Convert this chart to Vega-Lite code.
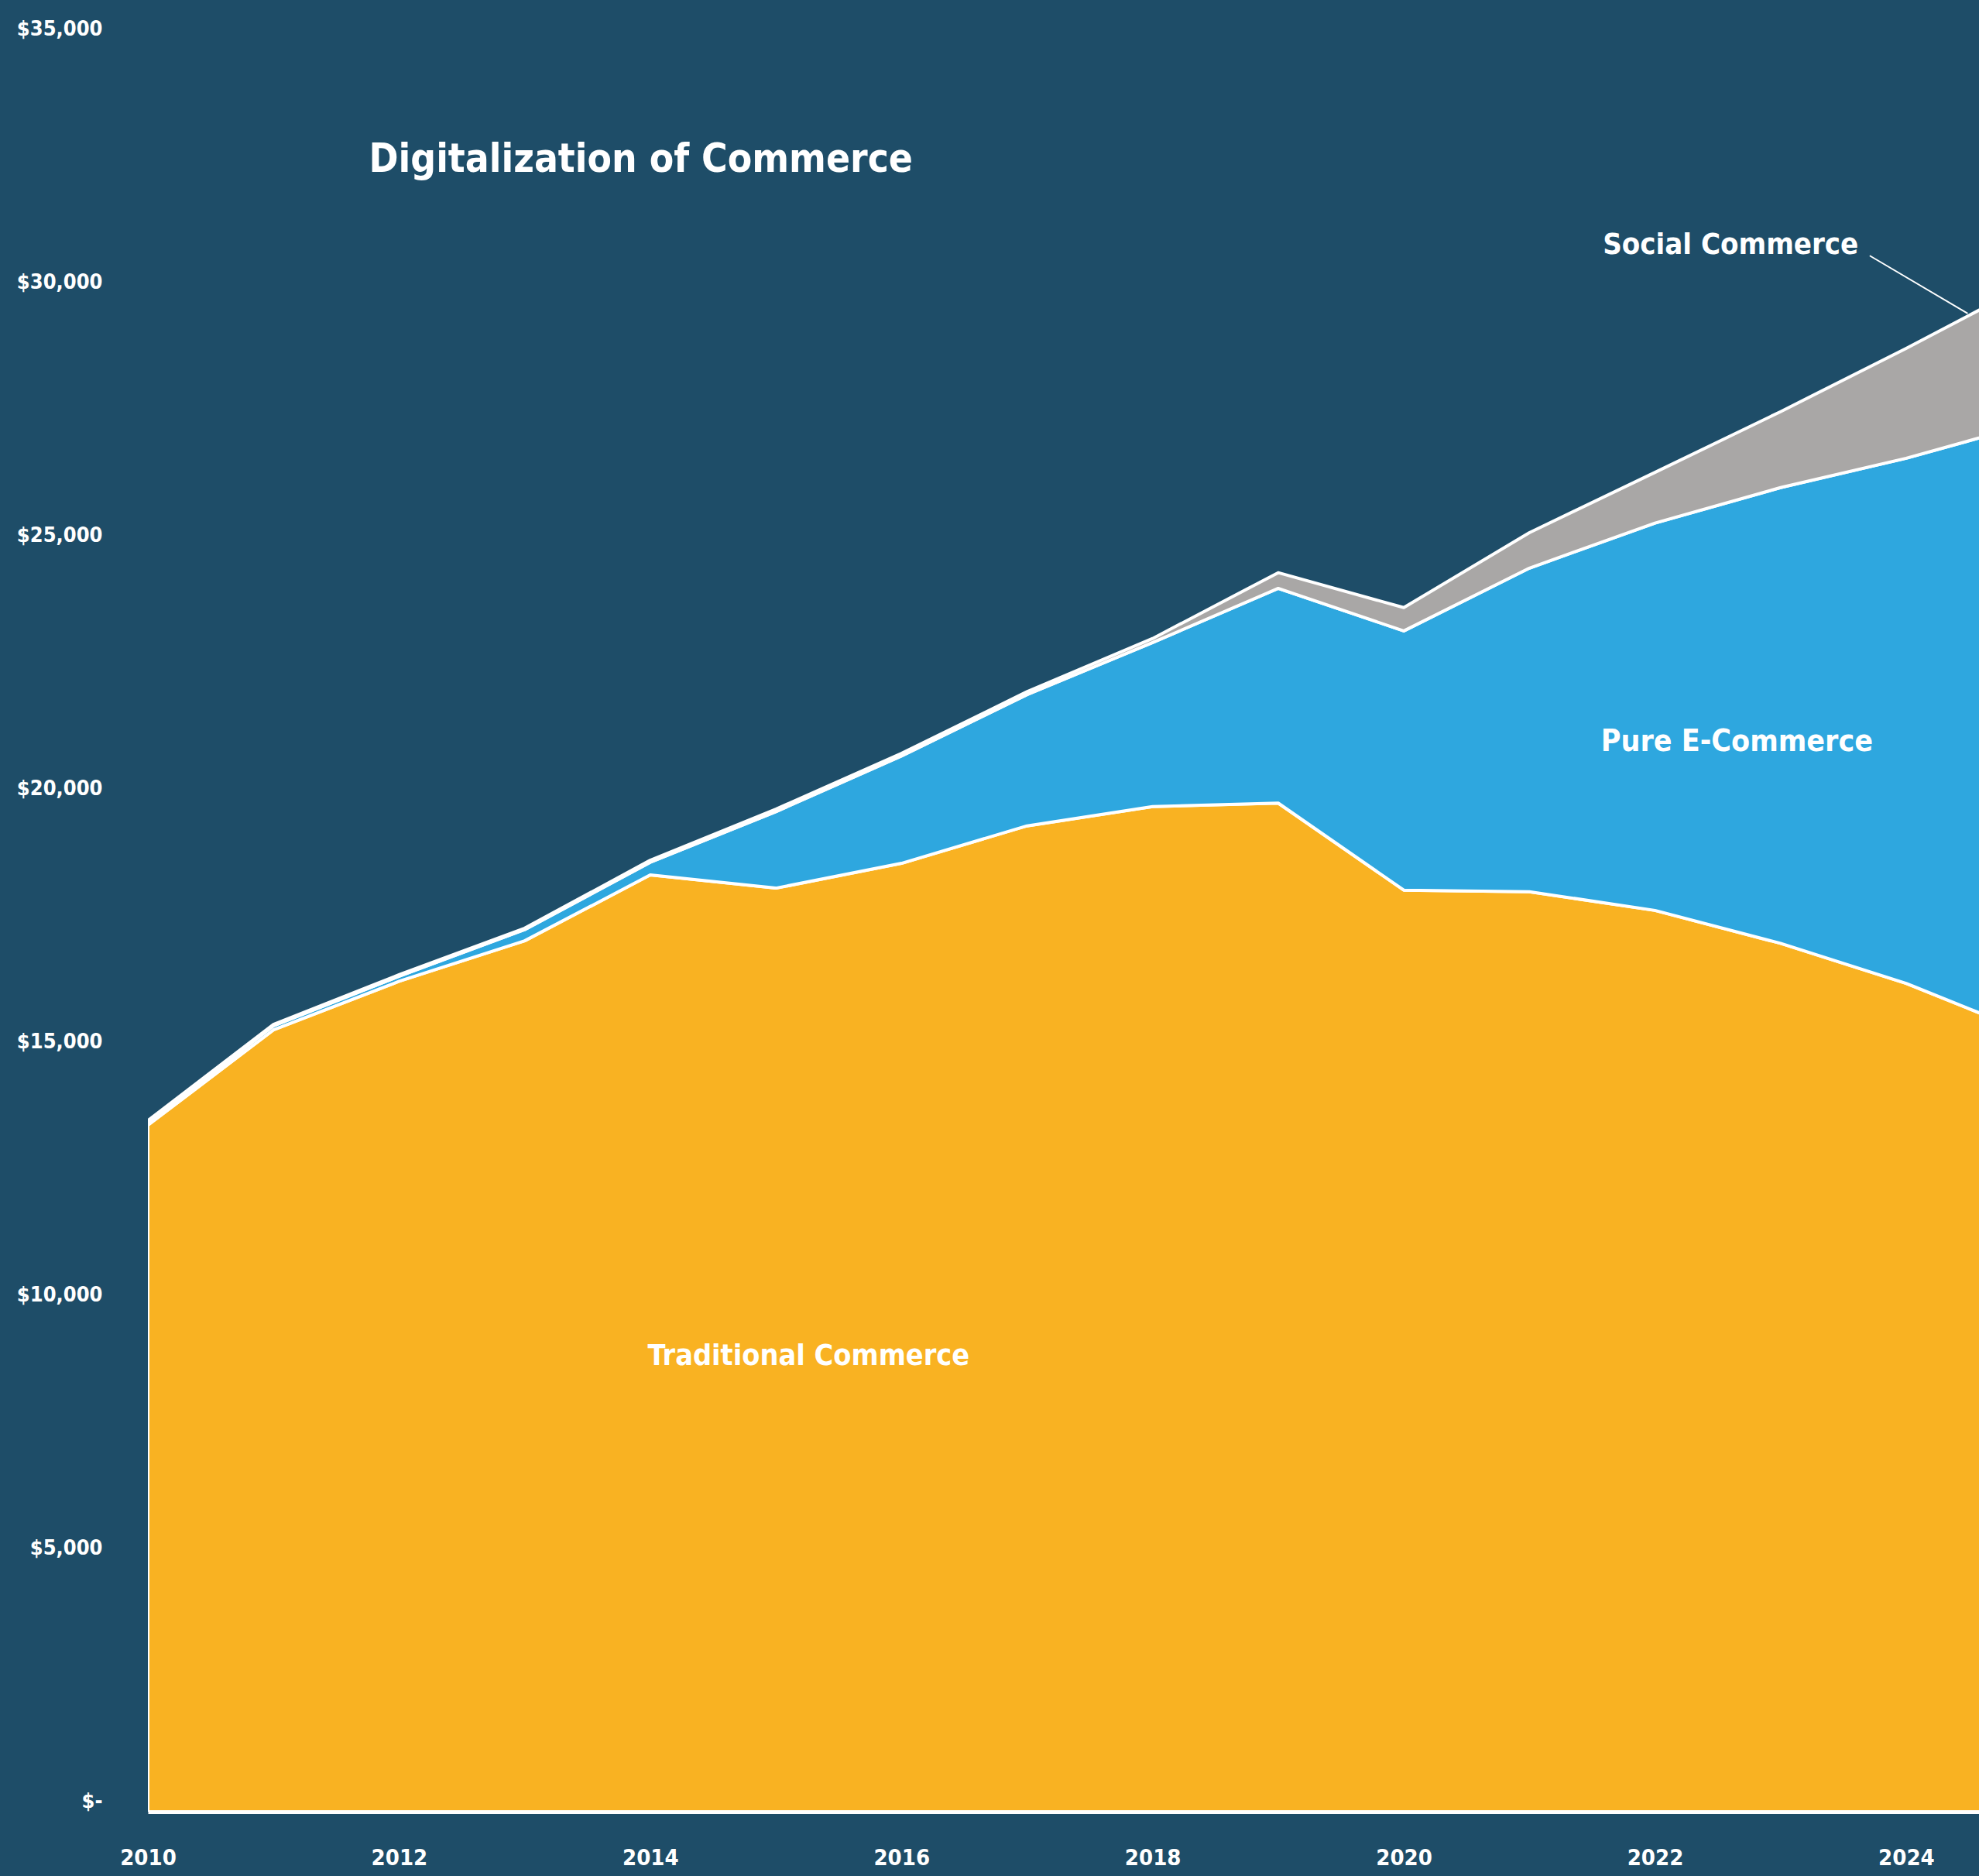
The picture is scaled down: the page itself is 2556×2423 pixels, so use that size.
{
  "$schema": "https://vega.github.io/schema/vega-lite/v6.json",
  "width": 2365,
  "height": 2289,
  "autosize": {"type": "none"},
  "padding": {"left": 191, "top": 51, "right": 0, "bottom": 83},
  "background": "#1E4D68",
  "config": {
    "view": {"stroke": null},
    "font": "Liberation Sans Narrow, DejaVu Sans Condensed, sans-serif"
  },
  "datasets": {
    "commerce": [
      {"year": 2010, "segment": "Traditional Commerce", "value": 13560},
      {"year": 2011, "segment": "Traditional Commerce", "value": 15440},
      {"year": 2012, "segment": "Traditional Commerce", "value": 16400},
      {"year": 2013, "segment": "Traditional Commerce", "value": 17200},
      {"year": 2014, "segment": "Traditional Commerce", "value": 18500},
      {"year": 2015, "segment": "Traditional Commerce", "value": 18240},
      {"year": 2016, "segment": "Traditional Commerce", "value": 18730},
      {"year": 2017, "segment": "Traditional Commerce", "value": 19470},
      {"year": 2018, "segment": "Traditional Commerce", "value": 19850},
      {"year": 2019, "segment": "Traditional Commerce", "value": 19920},
      {"year": 2020, "segment": "Traditional Commerce", "value": 18200},
      {"year": 2021, "segment": "Traditional Commerce", "value": 18170},
      {"year": 2022, "segment": "Traditional Commerce", "value": 17800},
      {"year": 2023, "segment": "Traditional Commerce", "value": 17150},
      {"year": 2024, "segment": "Traditional Commerce", "value": 16360},
      {"year": 2025, "segment": "Traditional Commerce", "value": 15360},
      {"year": 2010, "segment": "Pure E-Commerce", "value": 60},
      {"year": 2011, "segment": "Pure E-Commerce", "value": 80},
      {"year": 2012, "segment": "Pure E-Commerce", "value": 100},
      {"year": 2013, "segment": "Pure E-Commerce", "value": 220},
      {"year": 2014, "segment": "Pure E-Commerce", "value": 250},
      {"year": 2015, "segment": "Pure E-Commerce", "value": 1510},
      {"year": 2016, "segment": "Pure E-Commerce", "value": 2120},
      {"year": 2017, "segment": "Pure E-Commerce", "value": 2590},
      {"year": 2018, "segment": "Pure E-Commerce", "value": 3240},
      {"year": 2019, "segment": "Pure E-Commerce", "value": 4240},
      {"year": 2020, "segment": "Pure E-Commerce", "value": 5120},
      {"year": 2021, "segment": "Pure E-Commerce", "value": 6390},
      {"year": 2022, "segment": "Pure E-Commerce", "value": 7650},
      {"year": 2023, "segment": "Pure E-Commerce", "value": 9000},
      {"year": 2024, "segment": "Pure E-Commerce", "value": 10370},
      {"year": 2025, "segment": "Pure E-Commerce", "value": 12060},
      {"year": 2010, "segment": "Social Commerce", "value": 30},
      {"year": 2011, "segment": "Social Commerce", "value": 30},
      {"year": 2012, "segment": "Social Commerce", "value": 30},
      {"year": 2013, "segment": "Social Commerce", "value": 30},
      {"year": 2014, "segment": "Social Commerce", "value": 40},
      {"year": 2015, "segment": "Social Commerce", "value": 50},
      {"year": 2016, "segment": "Social Commerce", "value": 50},
      {"year": 2017, "segment": "Social Commerce", "value": 60},
      {"year": 2018, "segment": "Social Commerce", "value": 80},
      {"year": 2019, "segment": "Social Commerce", "value": 310},
      {"year": 2020, "segment": "Social Commerce", "value": 460},
      {"year": 2021, "segment": "Social Commerce", "value": 700},
      {"year": 2022, "segment": "Social Commerce", "value": 1000},
      {"year": 2023, "segment": "Social Commerce", "value": 1500},
      {"year": 2024, "segment": "Social Commerce", "value": 2170},
      {"year": 2025, "segment": "Social Commerce", "value": 2780}
    ],
    "single": [{}]
  },
  "layer": [
    {
      "data": {"name": "commerce"},
      "transform": [
        {"calculate": "indexof(['Traditional Commerce','Pure E-Commerce','Social Commerce'], datum.segment)", "as": "ord"}
      ],
      "mark": {"type": "area", "clip": true, "stroke": "white", "strokeWidth": 4, "strokeJoin": "round", "fillOpacity": 1},
      "encoding": {
        "x": {
          "field": "year", "type": "quantitative",
          "scale": {"domain": [2010, 2024.58], "nice": false, "zero": false},
          "axis": {
            "values": [2010, 2012, 2014, 2016, 2018, 2020, 2022, 2024],
            "format": "d", "title": null, "grid": false, "ticks": false,
            "domain": true, "domainColor": "white", "domainWidth": 5,
            "labelColor": "white", "labelFontSize": 29, "labelFontWeight": "bold",
            "labelPadding": 45, "labelFlush": false, "labelOverlap": false
          }
        },
        "y": {
          "field": "value", "type": "quantitative", "stack": "zero",
          "scale": {"domain": [0, 35000], "nice": false},
          "axis": {
            "values": [0, 5000, 10000, 15000, 20000, 25000, 30000, 35000],
            "labelExpr": "datum.value == 0 ? '$-' : '$' + format(datum.value, ',')",
            "title": null, "grid": false, "ticks": false, "domain": false,
            "labelColor": "white", "labelFontSize": 27, "labelFontWeight": "bold",
            "labelPadding": 59, "labelOffset": -14, "labelOverlap": false, "labelFlush": false
          }
        },
        "color": {
          "field": "segment", "type": "nominal",
          "scale": {
            "domain": ["Traditional Commerce", "Pure E-Commerce", "Social Commerce"],
            "range": ["#F9B222", "#2EA7DF", "#A9A7A6"]
          },
          "legend": null
        },
        "order": {"field": "ord", "type": "quantitative"}
      }
    },
    {
      "data": {"name": "single"},
      "mark": {"type": "rule", "color": "white", "strokeWidth": 2},
      "encoding": {
        "x": {"datum": 2023.71}, "y": {"datum": 30730},
        "x2": {"datum": 2024.49}, "y2": {"datum": 29590}
      }
    },
    {
      "data": {"name": "single"},
      "mark": {"type": "text", "text": "Digitalization of Commerce", "color": "white", "fontSize": 51, "fontWeight": "bold", "align": "left", "baseline": "alphabetic"},
      "encoding": {"x": {"datum": 2011.76}, "y": {"datum": 32380}}
    },
    {
      "data": {"name": "single"},
      "mark": {"type": "text", "text": "Social Commerce", "color": "white", "fontSize": 38, "fontWeight": "bold", "align": "right", "baseline": "alphabetic"},
      "encoding": {"x": {"datum": 2023.62}, "y": {"datum": 30770}}
    },
    {
      "data": {"name": "single"},
      "mark": {"type": "text", "text": "Pure E-Commerce", "color": "white", "fontSize": 39, "fontWeight": "bold", "align": "left", "baseline": "alphabetic"},
      "encoding": {"x": {"datum": 2021.57}, "y": {"datum": 20950}}
    },
    {
      "data": {"name": "single"},
      "mark": {"type": "text", "text": "Traditional Commerce", "color": "white", "fontSize": 37.5, "fontWeight": "bold", "align": "left", "baseline": "alphabetic"},
      "encoding": {"x": {"datum": 2013.98}, "y": {"datum": 8830}}
    }
  ]
}
